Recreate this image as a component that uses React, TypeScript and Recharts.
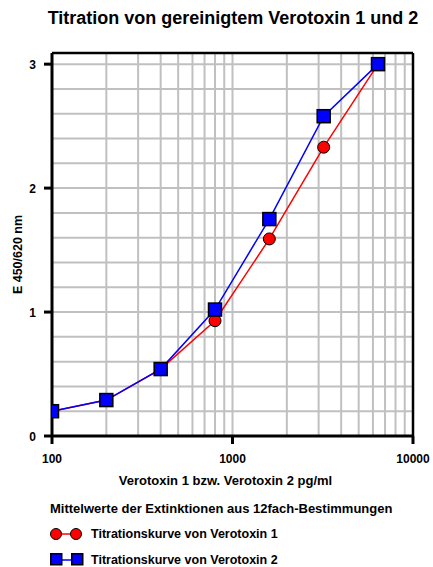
import React from 'react';
import { LineChart, Line, XAxis, YAxis, CartesianGrid, ReferenceLine, Legend } from 'recharts';

const concentrations = [100, 200, 400, 800, 1600, 3200, 6400];
const verotoxin1 = [0.2, 0.29, 0.54, 0.93, 1.59, 2.33, 3.0];
const verotoxin2 = [0.2, 0.29, 0.54, 1.02, 1.75, 2.58, 3.0];
const xGridTicks = [100, 200, 300, 400, 500, 600, 700, 800, 900, 1000, 2000, 3000, 4000, 5000, 6000, 7000, 8000, 9000, 10000];
const xLabelTicks = [100, 1000, 10000];
const yGridTicks = [0, 0.2, 0.4, 0.6, 0.8, 1, 1.2, 1.4, 1.6, 1.8, 2, 2.2, 2.4, 2.6, 2.8, 3];
const yLabelTicks = [0, 1, 2, 3];
const yMax = 3.09;

const title = 'Titration von gereinigtem Verotoxin 1 und 2';
const xTitle = 'Verotoxin 1 bzw. Verotoxin 2 pg/ml';
const yTitle = 'E 450/620 nm';
const legendTitle = 'Mittelwerte der Extinktionen aus 12fach-Bestimmungen';
const seriesNames = ['Titrationskurve von Verotoxin 1', 'Titrationskurve von Verotoxin 2'];

const data = concentrations.map((c, i) => ({ c, v1: verotoxin1[i], v2: verotoxin2[i] }));

const FONT = '"Liberation Sans", Arial, sans-serif';

const isMajorY = (v: number) => yLabelTicks.some((t) => Math.abs(t - v) < 1e-9);
const isMajorX = (v: number) => xLabelTicks.includes(v);

const YTick = (props: any) => {
  const { x, y, payload } = props;
  if (!isMajorY(payload.value)) return null;
  return (
    <g>
      <line x1={x} x2={x + 8} y1={y} y2={y} stroke="#000" strokeWidth={3} />
      <text x={x - 8} y={y} dy={4.5} textAnchor="end" fontFamily={FONT} fontWeight="bold" fontSize={12} fill="#000">
        {payload.value}
      </text>
    </g>
  );
};

const XTick = (props: any) => {
  const { x, y, payload } = props;
  if (!isMajorX(payload.value)) return null;
  return (
    <g>
      <line x1={x} x2={x} y1={y - 8} y2={y} stroke="#000" strokeWidth={3} />
      <text x={x} y={y + 19} textAnchor="middle" fontFamily={FONT} fontWeight="bold" fontSize={12} fill="#000">
        {payload.value}
      </text>
    </g>
  );
};

const YLabel = (props: any) => {
  const { viewBox } = props;
  const x = viewBox.x + 6;
  const y = viewBox.y + viewBox.height / 2 + 10;
  return (
    <text x={x} y={y} transform={`rotate(-90, ${x}, ${y})`} textAnchor="middle" dominantBaseline="central" fontFamily={FONT} fontWeight="bold" fontSize={12.5} fill="#000">
      {yTitle}
    </text>
  );
};

const XLabel = (props: any) => {
  const { viewBox } = props;
  const x = viewBox.x + viewBox.width / 2 - 7;
  const y = viewBox.y + 49;
  return (
    <text x={x} y={y} textAnchor="middle" fontFamily={FONT} fontWeight="bold" fontSize={13} fill="#000">
      {xTitle}
    </text>
  );
};

const RedDot = (props: any) => {
  const { cx, cy } = props;
  if (cx == null || cy == null) return null;
  return <circle cx={cx} cy={cy} r={6} fill="#ff0000" stroke="#000" strokeWidth={1} />;
};

const BlueDot = (props: any) => {
  const { cx, cy } = props;
  if (cx == null || cy == null) return null;
  return <rect x={cx - 6.5} y={cy - 6.5} width={13} height={13} fill="#0000ff" stroke="#000" strokeWidth={1.5} />;
};

const renderLegend = (props: any) => {
  const payload = props.payload || [];
  return (
    <div style={{ fontFamily: FONT, fontSize: 12.5, fontWeight: 'bold', color: '#000', textAlign: 'left' }}>
      <div style={{ height: 24, lineHeight: '24px', fontSize: 13 }}>{legendTitle}</div>
      {payload.map((p: any, i: number) => (
        <div key={i} style={{ display: 'flex', alignItems: 'center', height: 26 }}>
          <svg width={34} height={16}>
            <line x1={6} x2={26} y1={8} y2={8} stroke={p.color} strokeWidth={1.5} />
            {i === 0 ? (
              <>
                <circle cx={6} cy={8} r={5.5} fill="#ff0000" stroke="#000" strokeWidth={1} />
                <circle cx={26} cy={8} r={5.5} fill="#ff0000" stroke="#000" strokeWidth={1} />
              </>
            ) : (
              <>
                <rect x={0.75} y={1.75} width={11} height={11} fill="#0000ff" stroke="#000" strokeWidth={1.5} />
                <rect x={21.75} y={1.75} width={11} height={11} fill="#0000ff" stroke="#000" strokeWidth={1.5} />
              </>
            )}
          </svg>
          <span style={{ marginLeft: 7 }}>{p.value}</span>
        </div>
      ))}
    </div>
  );
};

export default function App() {
  return (
    <div style={{ position: 'absolute', left: 0, top: 0, width: 433, height: 567, background: '#fff' }}>
      <div
        style={{
          position: 'absolute',
          left: 0,
          top: 8,
          width: 466,
          textAlign: 'center',
          fontFamily: FONT,
          fontWeight: 'bold',
          fontSize: 18,
          color: '#000',
          zIndex: 2,
        }}
      >
        {title}
      </div>
      <LineChart width={433} height={567} data={data} margin={{ top: 53, right: 20, bottom: 91, left: 12 }}>
        <CartesianGrid stroke="#c0c0c0" strokeWidth={2} />
        <XAxis
          dataKey="c"
          type="number"
          scale="log"
          domain={[100, 10000]}
          ticks={xGridTicks}
          interval={0}
          height={40}
          tickSize={8}
          tickMargin={0}
          tickLine={false}
          tick={<XTick />}
          axisLine={{ stroke: '#000', strokeWidth: 3 }}
          allowDataOverflow
          label={<XLabel />}
        />
        <YAxis
          type="number"
          domain={[0, yMax]}
          ticks={yGridTicks}
          interval={0}
          width={40}
          tickSize={8}
          tickMargin={0}
          tickLine={false}
          tick={<YTick />}
          axisLine={{ stroke: '#000', strokeWidth: 3 }}
          allowDataOverflow
          label={<YLabel />}
        />
        <ReferenceLine y={yMax} stroke="#000" strokeWidth={2.5} />
        <ReferenceLine x={10000} stroke="#000" strokeWidth={2.5} />
        <Line
          dataKey="v1"
          name={seriesNames[0]}
          type="linear"
          stroke="#ff0000"
          strokeWidth={1.5}
          dot={<RedDot />}
          isAnimationActive={false}
        />
        <Line
          dataKey="v2"
          name={seriesNames[1]}
          type="linear"
          stroke="#0000ff"
          strokeWidth={1.5}
          dot={<BlueDot />}
          isAnimationActive={false}
        />
        <Legend
          content={renderLegend}
          layout="vertical"
          verticalAlign="middle"
          align="center"
          wrapperStyle={{ left: 50, top: 497, width: 383 }}
        />
      </LineChart>
    </div>
  );
}
